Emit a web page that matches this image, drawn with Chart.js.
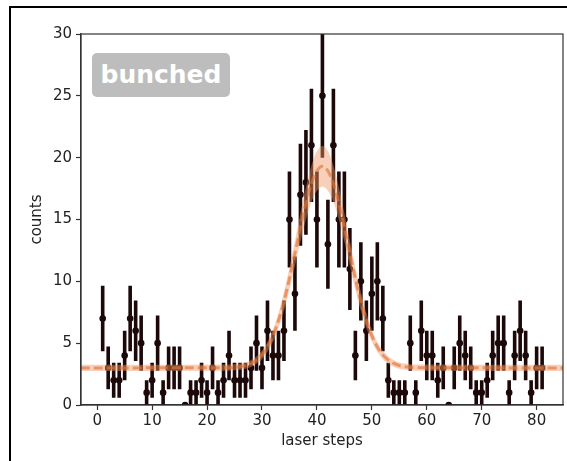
<!DOCTYPE html>
<html>
<head>
<meta charset="utf-8">
<script src="https://cdn.jsdelivr.net/npm/chart.js@4.4.1/dist/chart.umd.min.js"></script>
<style>
  body { margin: 0; background: #fff; overflow: hidden; }
  #wrap { position: relative; width: 567px; height: 461px; overflow: hidden; }
  #frame { position: absolute; left: 9px; top: 6px; width: 620px; height: 520px; border: 2px solid #000; }
  #chart { position: absolute; left: 0; top: 0; }
  #tag {
    position: absolute; left: 92px; top: 53px; width: 138px; height: 44px;
    background: #bdbdbd; border-radius: 5px; color: #fff;
    font: bold 25px "DejaVu Sans", sans-serif; line-height: 44px; text-align: center;
  }
</style>
</head>
<body>
<div id="wrap">
  <div id="frame"></div>
  <canvas id="chart" width="567" height="461"></canvas>
  <div id="tag">bunched</div>
</div>
<script>
const steps = [1, 2, 3, 4, 5, 6, 7, 8, 9, 10, 11, 12, 13, 14, 15, 16, 17, 18, 19, 20,
  21, 22, 23, 24, 25, 26, 27, 28, 29, 30, 31, 32, 33, 34, 35, 36, 37, 38, 39, 40,
  41, 42, 43, 44, 45, 46, 47, 48, 49, 50, 51, 52, 53, 54, 55, 56, 57, 58, 59, 60,
  61, 62, 63, 64, 65, 66, 67, 68, 69, 70, 71, 72, 73, 74, 75, 76, 77, 78, 79, 80, 81];
const counts = [7, 3, 2, 2, 4, 7, 6, 5, 1, 2, 5, 1, 3, 3, 3, 0, 1, 1, 2, 1,
  3, 1, 2, 4, 2, 2, 2, 3, 5, 3, 6, 4, 4, 6, 15, 9, 17, 18, 21, 15,
  25, 13, 21, 15, 15, 11, 4, 10, 6, 9, 10, 7, 2, 1, 1, 1, 5, 1, 6, 4,
  4, 2, 3, 0, 3, 5, 4, 3, 1, 1, 2, 4, 5, 5, 1, 4, 6, 4, 1, 3, 3];

// fitted curve and its band
const fitX = [-3, 24, 25, 26, 27, 28, 29, 30, 31, 32, 33, 34, 35, 36, 37, 38, 39, 40, 41,
  42, 43, 44, 45, 46, 47, 48, 49, 50, 51, 52, 53, 54, 55, 56, 57, 58, 86];
const fitY = [3.0, 3.02, 3.05, 3.10, 3.19, 3.36, 3.63, 4.05, 4.70, 5.61, 6.83, 8.38, 10.22, 12.26, 14.35, 16.30, 17.89, 18.93, 19.30,
  18.93, 17.89, 16.30, 14.35, 12.26, 10.22, 8.38, 6.83, 5.61, 4.70, 4.05, 3.63, 3.36, 3.19, 3.10, 3.05, 3.02, 3.0];
const fitHalfWidth = [0.25, 0.25, 0.25, 0.25, 0.25, 0.28, 0.3, 0.35, 0.4, 0.5, 0.6, 0.75, 0.9, 1.0, 1.15, 1.3, 1.45, 1.6, 1.65,
  1.6, 1.45, 1.3, 1.15, 1.0, 0.9, 0.75, 0.6, 0.5, 0.4, 0.35, 0.3, 0.28, 0.25, 0.25, 0.25, 0.25, 0.25];

const xTicks = [0, 10, 20, 30, 40, 50, 60, 70, 80];
const yTicks = [0, 5, 10, 15, 20, 25, 30];

const ink = "#1c0808";
const spine = "#333";

// points and poisson error bars (sqrt of the count)
let pts = steps.map((s, i) => ({ x: s, y: counts[i] }));
let bars = [];
steps.forEach((s, i) => {
    let e = Math.sqrt(counts[i]);
    bars.push({ x: s, y: counts[i] - e }, { x: s, y: counts[i] + e }, { x: s, y: null });
});
let fitLine = fitX.map((x, i) => ({ x: x, y: fitY[i] }));
let bandHi = fitX.map((x, i) => ({ x: x, y: fitY[i] + fitHalfWidth[i] }));
let bandLo = fitX.map((x, i) => ({ x: x, y: fitY[i] - fitHalfWidth[i] }));

const boxPlugin = {
    id: "box",
    afterDatasetsDraw(chart) {
        const a = chart.chartArea, ctx = chart.ctx;
        ctx.save();
        ctx.strokeStyle = spine;
        ctx.lineWidth = 1.2;
        ctx.strokeRect(a.left, a.top, a.right - a.left, a.bottom - a.top);
        ctx.restore();
    }
};

const tickFont = { family: "DejaVu Sans", size: 15 };

new Chart(document.getElementById("chart").getContext("2d"), {
    type: "scatter",
    data: {
        datasets: [
            {
                data: bars, showLine: true, spanGaps: false,
                borderColor: ink, borderWidth: 3.6, pointRadius: 0, order: 3
            },
            {
                data: pts, pointRadius: 3.3, pointBackgroundColor: ink,
                pointBorderColor: ink, pointBorderWidth: 0, order: 2
            },
            {
                data: bandHi, showLine: true, borderWidth: 0, pointRadius: 0,
                fill: "+1", backgroundColor: "rgba(240, 150, 100, 0.45)",
                cubicInterpolationMode: "monotone", order: 1
            },
            {
                data: bandLo, showLine: true, borderWidth: 0, pointRadius: 0,
                fill: false, cubicInterpolationMode: "monotone", order: 1
            },
            {
                data: fitLine, showLine: true, pointRadius: 0,
                borderColor: "rgba(228, 115, 55, 0.65)", borderWidth: 3, borderDash: [9, 4],
                cubicInterpolationMode: "monotone", order: 0
            }
        ]
    },
    options: {
        responsive: false,
        animation: false,
        layout: { padding: { left: 12, right: 0, top: 34, bottom: 0 } },
        plugins: { legend: { display: false }, tooltip: { enabled: false } },
        scales: {
            x: {
                type: "linear", min: -2.95, max: 84.8,
                afterFit: s => { s.height = 56; },
                afterBuildTicks: s => { s.ticks = xTicks.map(v => ({ value: v })); },
                grid: { drawOnChartArea: false, tickLength: 5, tickColor: spine, tickWidth: 1.2 },
                border: { color: spine, width: 1.2 },
                ticks: { color: "#222", font: tickFont, padding: 2 },
                title: { display: true, text: "laser steps", color: "#222", font: tickFont, padding: { top: 0, bottom: 11 } }
            },
            y: {
                min: 0, max: 30,
                afterFit: s => { s.width = 69; },
                afterBuildTicks: s => { s.ticks = yTicks.map(v => ({ value: v })); },
                grid: { drawOnChartArea: false, tickLength: 5, tickColor: spine, tickWidth: 1.2 },
                border: { color: spine, width: 1.2 },
                ticks: { color: "#222", font: tickFont, padding: 4 },
                title: { display: true, text: "counts", color: "#222", font: tickFont, padding: { top: 16, bottom: 0 } }
            }
        }
    },
    plugins: [boxPlugin]
});
</script>
</body>
</html>
